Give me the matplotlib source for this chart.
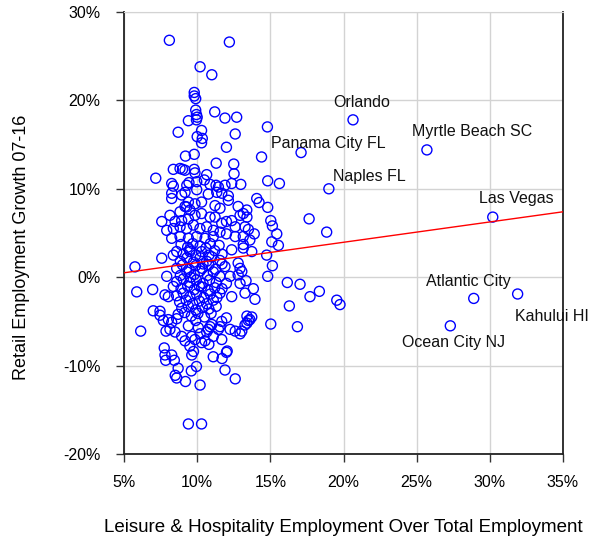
import matplotlib
matplotlib.use("Agg")
import matplotlib.pyplot as plt
from matplotlib.ticker import PercentFormatter

plt.rcParams["font.family"] = ["Liberation Sans", "DejaVu Sans"]
plt.rcParams["axes.unicode_minus"] = False

# labelled metros (x = leisure & hospitality share %, y = retail growth 07-16 %)
named = ["Orlando", "Myrtle Beach SC", "Panama City FL", "Naples FL",
         "Las Vegas", "Atlantic City", "Kahului HI", "Ocean City NJ"]
named_x = [20.65, 25.7, 17.1, 19.0, 30.2, 28.9, 31.9, 27.3]
named_y = [17.8, 14.4, 14.1, 10.0, 6.8, -2.4, -1.9, -5.5]
# label offsets in pixels relative to the marker
label_off = [(-20, 17), (-15, 18), (-30, 9), (4, 12), (-14, 19), (-48, 17), (-3, -23), (-48, -17)]

# every other metro
others = [
    # upper tail
    (8.1, 26.8), (12.2, 26.6), (10.2, 23.8), (11.0, 22.9),
    (9.8, 20.9), (9.8, 20.5), (9.9, 20.2), (9.9, 18.9), (9.95, 18.4), (10.0, 18.1), (9.95, 17.8),
    (9.4, 17.7), (11.2, 18.7), (11.9, 18.0), (12.7, 18.1),
    (14.8, 17.0), (10.3, 16.6), (8.7, 16.4), (12.6, 16.2), (10.0, 15.9), (10.35, 15.7), (10.3, 15.2), (12.0, 14.7),
    (9.8, 13.9), (9.2, 13.7), (14.4, 13.6), (11.3, 12.9), (12.5, 12.8),
    (8.37, 12.2), (8.83, 12.3), (9.0, 12.2), (9.17, 12.1), (9.8, 12.2), (9.85, 11.8), (10.65, 11.6),
    (12.52, 11.7), (7.17, 11.2),
    (14.82, 10.9), (15.62, 10.6), (8.26, 10.6), (9.44, 10.7), (9.29, 10.4), (9.97, 10.8), (10.49, 11.0),
    (10.88, 10.5), (11.29, 10.4), (11.45, 10.2), (11.9, 10.4), (12.36, 10.6), (12.98, 10.5), (8.37, 10.3),
    # 4 - 10 %
    (8.26, 9.5), (8.94, 9.3), (9.17, 9.6), (9.97, 9.9), (10.76, 9.4), (11.34, 9.6), (11.68, 9.5),
    (12.13, 9.2), (14.07, 8.9), (14.23, 8.45),
    (9.4, 8.5), (9.85, 8.3), (10.3, 8.5), (11.22, 8.1), (11.56, 7.8), (12.13, 8.7), (12.8, 8.0),
    (13.15, 7.2), (13.39, 7.6), (14.82, 7.9), (8.26, 8.9), (9.28, 7.95),
    (8.14, 7.0), (8.83, 7.4), (9.17, 8.0), (9.51, 7.6), (8.49, 6.3), (8.94, 6.4), (9.4, 6.6), (9.85, 7.0),
    (10.3, 7.2), (10.88, 6.8), (11.22, 6.8), (11.68, 6.1), (12.0, 6.3), (12.36, 6.4), (12.93, 7.0),
    (13.4, 6.8), (15.03, 6.4), (17.65, 6.6),
    (7.58, 6.3), (7.92, 5.3), (8.37, 5.5), (8.83, 5.7), (9.28, 5.5), (9.74, 5.9), (10.19, 5.5),
    (10.65, 5.7), (11.1, 5.3), (11.56, 5.1), (12.0, 4.9), (12.6, 5.7), (13.27, 5.7), (13.5, 5.4),
    (15.14, 5.8), (15.44, 4.9), (18.85, 5.1),
    (8.26, 4.4), (8.83, 4.6), (9.4, 4.4), (9.97, 4.6), (10.54, 4.4), (11.1, 4.6), (12.6, 4.6),
    (13.15, 4.6), (13.9, 4.9), (13.6, 4.2), (15.1, 4.0), (15.55, 3.6), (13.15, 3.7),
    # dense core
    (8.9, 3.7), (9.35, 3.4), (9.7, 3.8), (10.2, 3.5), (10.6, 3.3), (10.9, 3.8), (11.5, 3.6), (9.5, 3.1),
    (8.6, 2.9), (9.05, 2.6), (9.5, 2.9), (9.9, 2.5), (10.3, 2.9), (10.8, 2.5), (11.2, 3.0), (11.7, 2.6),
    (8.85, 1.8), (9.3, 2.2), (9.75, 1.7), (10.2, 2.2), (10.65, 1.8), (11.0, 2.3), (11.55, 1.9), (10.4, 1.5),
    (8.6, 1.0), (9.0, 1.4), (9.45, 0.9), (9.9, 1.3), (10.35, 1.0), (10.8, 1.4), (11.25, 0.9), (11.7, 1.5),
    (8.85, 0.2), (9.3, 0.6), (9.8, 0.3), (10.2, 0.7), (10.7, 0.2), (11.1, 0.6), (11.55, 0.1), (9.55, 0.0),
    (8.6, -0.5), (9.05, -0.2), (9.5, -0.6), (9.95, -0.3), (10.4, -0.7), (10.85, -0.3), (11.3, -0.6), (10.15, -1.0),
    (8.9, -1.3), (9.35, -1.0), (9.8, -1.4), (10.3, -1.1), (10.75, -1.5), (11.2, -1.2), (11.7, -1.3),
    (8.6, -2.1), (9.05, -1.8), (9.5, -2.2), (9.95, -1.9), (10.45, -2.3), (10.9, -1.9), (11.35, -2.3),
    # around the core
    (7.58, 2.15), (7.92, 0.1), (8.37, -1.05), (8.03, -2.2), (12.36, 3.1), (12.8, 1.6), (12.93, 1.0),
    (13.05, 0.65), (12.8, 0.26), (11.9, 1.2), (12.25, 0.1), (12.0, -0.7), (12.93, -0.7), (13.27, -1.8),
    (11.56, -1.8), (12.36, -2.2), (13.15, 3.3), (8.37, 2.5), (13.73, 2.9), (14.75, 2.5), (15.14, 1.3),
    (14.82, 0.1), (13.34, -0.4), (13.84, -1.3), (13.95, -2.5), (16.16, -0.6), (17.03, -0.8),
    (17.71, -2.2), (18.35, -1.6), (19.54, -2.6), (19.76, -3.1), (16.3, -3.25),
    (5.75, 1.17), (5.87, -1.66), (6.96, -1.4), (7.8, -2.0),
    # below zero
    (8.8, -2.8), (9.25, -2.6), (9.7, -3.0), (10.15, -2.7), (10.65, -3.0), (11.1, -2.6),
    (8.95, -3.5), (9.4, -3.3), (9.9, -3.7), (10.35, -3.4), (10.8, -3.6), (11.3, -3.3),
    (8.7, -4.2), (9.15, -4.0), (9.6, -4.4), (10.05, -4.1), (10.5, -4.5), (10.95, -4.1), (9.9, -4.9),
    (7.46, -3.85), (8.03, -4.8), (8.14, -5.9), (7.0, -3.8), (7.46, -4.3), (7.69, -4.9), (8.26, -5.1),
    (8.6, -4.7), (7.87, -6.1), (8.49, -6.2), (6.14, -6.1),
    (9.4, -5.5), (10.08, -5.7), (10.76, -5.9), (8.94, -6.7), (9.63, -6.7), (9.17, -7.2), (9.85, -7.05),
    (10.54, -7.2), (11.0, -5.35), (11.68, -5.0), (12.0, -4.6), (12.25, -5.9), (12.6, -6.1), (13.05, -6.1),
    (13.4, -5.2), (13.6, -4.8), (13.4, -4.4), (11.45, -5.9), (11.1, -6.7), (11.68, -7.05), (10.3, -7.4),
    (10.88, -5.6), (11.56, -5.6), (10.65, -6.2), (10.2, -6.4), (10.8, -7.6),
    (9.5, -7.8), (9.75, -8.4), (9.63, -8.8), (7.75, -8.0), (7.8, -8.8), (7.85, -9.4), (8.26, -8.8),
    (8.44, -9.4), (11.1, -9.0), (11.7, -9.2), (12.0, -8.5), (12.05, -8.35), (8.7, -10.3), (8.5, -11.1),
    (8.6, -11.4), (9.2, -11.8), (9.6, -10.6), (9.95, -10.1), (11.9, -10.5), (12.6, -11.5), (10.2, -12.2),
    (9.4, -16.6), (10.3, -16.6),
    (13.73, -4.5), (13.5, -4.9), (13.27, -5.4), (12.93, -6.4), (15.03, -5.3), (16.85, -5.6),
]

# fitted trend, read at the axis ends
trend_x = [5, 35]
trend_y = [0.5, 7.4]

ox = [p[0] for p in others]
oy = [p[1] for p in others]

fig = plt.figure(figsize=(6.15, 5.41), dpi=100)
ax = fig.add_axes([124 / 615, 1 - 454 / 541, (563 - 124) / 615, (454 - 12) / 541])

ax.grid(True, color="#d3d3d3", lw=1)
ax.set_axisbelow(True)

ax.scatter(ox + named_x, oy + named_y, s=52, facecolors="none", edgecolors="#0000ff", linewidths=1.0, zorder=3)
ax.plot(trend_x, trend_y, color="#ff0000", lw=1.0, zorder=4)

for name, x, y, off in zip(named, named_x, named_y, label_off):
    ax.annotate(name, (x, y), xytext=off, textcoords="offset pixels",
                ha="left", va="center", fontsize=11.5, color="#111111")

ax.set_xlim(5, 35)
ax.set_ylim(-20, 30)
ax.set_xticks(range(5, 36, 5))
ax.set_yticks(range(-20, 31, 10))
ax.xaxis.set_major_formatter(PercentFormatter(decimals=0))
ax.yaxis.set_major_formatter(PercentFormatter(decimals=0))
ax.tick_params(axis="both", direction="out", length=6, width=1, labelsize=11.5, color="#333333")
ax.tick_params(axis="x", pad=9)
ax.tick_params(axis="y", pad=11)

for side in ("left", "bottom", "right"):
    ax.spines[side].set_color("#222222")
    ax.spines[side].set_linewidth(1.3)
ax.spines["top"].set_color("#d3d3d3")

fig.text(22 / 615, 1 - 247 / 541, "Retail Employment Growth 07-16", rotation=90,
         ha="center", va="center", fontsize=13)
fig.text(343 / 615, 1 - 527 / 541, "Leisure & Hospitality Employment Over Total Employment",
         ha="center", va="center", fontsize=13.5)

fig.savefig("out.png", dpi=100)
